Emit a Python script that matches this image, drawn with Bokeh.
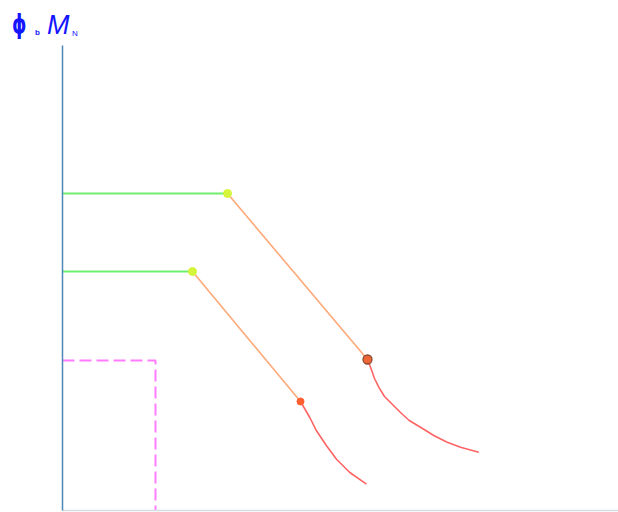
from bokeh.plotting import figure
from bokeh.models import Range1d, Div, FixedTicker
from bokeh.layouts import column
from bokeh.embed import file_html
from bokeh.resources import INLINE

# Upper characteristic: plateau, linear drop, curved tail
upper_flat_x = [0.0, 16.5]
upper_flat_y = [31.7, 31.7]
upper_slope_x = [16.5, 30.5]
upper_slope_y = [31.7, 15.1]
upper_tail_x = [30.5, 30.85, 31.2, 31.67, 32.2, 33.0, 33.8, 34.67,
                35.8, 37.13, 38.47, 39.8, 41.63]
upper_tail_y = [15.1, 14.2, 13.2, 12.27, 11.4, 10.6, 9.8, 9.0,
                8.33, 7.5, 6.83, 6.33, 5.83]

# Lower characteristic
lower_flat_x = [0.0, 13.0]
lower_flat_y = [23.9, 23.9]
lower_slope_x = [13.0, 23.8]
lower_slope_y = [23.9, 10.9]
lower_tail_x = [23.8, 24.73, 25.4, 26.4, 27.4, 28.73, 30.4]
lower_tail_y = [10.9, 9.3, 7.97, 6.47, 5.13, 3.8, 2.63]

# Dashed limit box
limit_x = [0.0, 9.3, 9.3]
limit_y = [15.0, 15.0, 0.0]

p = figure(width=618, height=467, output_backend="svg", toolbar_location=None,
           x_range=Range1d(0, 55.6), y_range=Range1d(0, 46.5),
           min_border_left=62, min_border_right=0, min_border_top=0,
           min_border_bottom=2)
p.grid.visible = False
p.outline_line_color = None
p.background_fill_color = "white"
p.border_fill_color = "white"

for ax in (p.xaxis, p.yaxis):
    ax.ticker = FixedTicker(ticks=[])
    ax.major_tick_out = 0
    ax.major_tick_in = 0
    ax.minor_tick_out = 0
    ax.minor_tick_in = 0
    ax.major_label_standoff = 0
p.yaxis.axis_line_color = "#4f86b8"
p.yaxis.axis_line_width = 1.5
p.xaxis.axis_line_color = "#d5dde6"
p.xaxis.axis_line_width = 1.5

green = "#6ef06e"
orange = "#ffa878"
red = "#ff6464"

p.line(limit_x, limit_y, line_color="#ff7cff", line_width=2, line_dash="12 5")

p.line(upper_flat_x, upper_flat_y, line_color=green, line_width=2)
p.line(upper_slope_x, upper_slope_y, line_color=orange, line_width=1.6)
p.line(upper_tail_x, upper_tail_y, line_color=red, line_width=1.6)

p.line(lower_flat_x, lower_flat_y, line_color=green, line_width=2)
p.line(lower_slope_x, lower_slope_y, line_color=orange, line_width=1.6)
p.line(lower_tail_x, lower_tail_y, line_color=red, line_width=1.6)

p.scatter([upper_flat_x[-1], lower_flat_x[-1]], [upper_flat_y[-1], lower_flat_y[-1]],
          size=8, fill_color="#d4f53a", line_color="#d4f53a")
p.scatter([upper_slope_x[-1]], [upper_slope_y[-1]], size=9,
          fill_color="#ee6635", line_color="#8a4a30", line_width=1.3)
p.scatter([lower_slope_x[-1]], [lower_slope_y[-1]], size=7,
          fill_color="#ff5f30", line_color="#ff5f30")

# Axis caption: phi_b M_N
span = "position:absolute;line-height:1;white-space:nowrap;"
caption = (
    '<div style="position:relative;width:618px;height:45px;color:#1414ff;">'
    f'<span style="{span}font-family:\'DejaVu Sans\';left:12px;top:11px;'
    'font-size:26px;font-weight:bold;transform:scaleX(0.7);'
    'transform-origin:left center;">\u03d5</span>'
    f'<span style="{span}font-family:\'Liberation Sans\';left:35px;top:29px;'
    'font-size:8px;font-weight:bold;">b</span>'
    f'<span style="{span}font-family:\'Liberation Sans\';left:47px;top:12px;'
    'font-size:27px;font-style:italic;">M</span>'
    f'<span style="{span}font-family:\'Liberation Sans\';left:72px;top:30px;'
    'font-size:8px;">N</span>'
    '</div>'
)
title = Div(text=caption, width=618, height=45, margin=0)

layout = column(title, p, spacing=0, margin=0)
open("out.html", "w").write(file_html(layout, INLINE))
